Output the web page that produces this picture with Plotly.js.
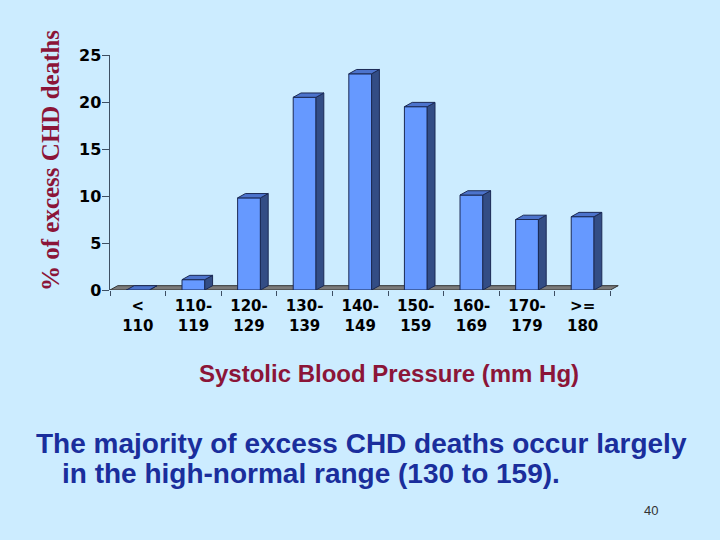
<!DOCTYPE html>
<html>
<head>
<meta charset="utf-8">
<script src="https://cdn.plot.ly/plotly-3.0.1.min.js"></script>
<style>
  html, body { margin: 0; padding: 0; background: #CCECFF; }
  #chart { width: 720px; height: 540px; }
</style>
</head>
<body>
<div id="chart"></div>
<script>
// ---- data ----
const categories = ["<<br>110", "110-<br>119", "120-<br>129", "130-<br>139", "140-<br>149",
                    "150-<br>159", "160-<br>169", "170-<br>179", ">=<br>180"];
const excessDeaths = [0, 1.1, 9.8, 20.5, 23.0, 19.5, 10.1, 7.5, 7.8];
const yTicks = [0, 5, 10, 15, 20, 25];

// ---- 3D look parameters (in axis units) ----
const barW = 0.41;     // front face width (category units)
const depthX = 0.14;   // receding offset along x
const depthY = 0.46;   // receding offset along y

const xPos = categories.map((_, i) => i);

// side faces and top faces built from the data
const sideX = [], sideY = [], topX = [], topY = [];
xPos.forEach((x, i) => {
  const v = excessDeaths[i];
  const r = x + barW / 2, l = x - barW / 2;
  sideX.push(r, r + depthX, r + depthX, r, r, null);
  sideY.push(0, depthY, v + depthY, v, 0, null);
  topX.push(l, r, r + depthX, l + depthX, l, null);
  topY.push(v, v, v + depthY, v + depthY, v, null);
});

const traces = [
  {
    type: "bar", x: xPos, y: excessDeaths, width: barW,
    marker: { color: "#6699FF", line: { color: "#1B2A55", width: 1 } },
    hoverinfo: "skip"
  },
  {
    type: "scatter", mode: "lines", x: sideX, y: sideY, fill: "toself",
    fillcolor: "#334D85", line: { color: "#1B2A55", width: 1 }, hoverinfo: "skip"
  },
  {
    type: "scatter", mode: "lines", x: topX, y: topY, fill: "toself",
    fillcolor: "#4C73CC", line: { color: "#1B2A55", width: 1 }, hoverinfo: "skip"
  }
];

const n = categories.length;
const boundaries = [];
for (let i = 0; i <= n; i++) boundaries.push(i - 0.5);

// pixel geometry helpers (plot area: x 110..621, y 55..290)
const L = 110, R = 99, T = 55, B = 250, W = 720, H = 540;
const pw = W - L - R, ph = H - T - B;
const px = (p) => (p - L) / pw;
const py = (p) => (H - B - p) / ph;

const layout = {
  width: W, height: H,
  margin: { l: L, r: R, t: T, b: B, pad: 0 },
  paper_bgcolor: "#CCECFF",
  plot_bgcolor: "#CCECFF",
  showlegend: false,
  bargap: 0,
  xaxis: {
    range: [-0.5, n - 0.5 + 0.19],
    tickmode: "array", tickvals: xPos, ticktext: categories,
    ticks: "", showgrid: false, zeroline: false, showline: false,
    tickfont: { family: "DejaVu Sans", size: 15, color: "#000000", weight: "bold" },
    ticklabelstandoff: 5,
    minor: { tickmode: "array", tickvals: boundaries, ticks: "outside", ticklen: 5,
             tickcolor: "#3D4F63", tickwidth: 1, showgrid: false },
    fixedrange: true
  },
  yaxis: {
    range: [0, 25],
    tickmode: "array", tickvals: yTicks,
    ticks: "outside", ticklen: 7, tickcolor: "#3D4F63", tickwidth: 1,
    showline: true, linecolor: "#3D4F63", linewidth: 1.5,
    showgrid: false, zeroline: false,
    tickfont: { family: "DejaVu Sans", size: 16, color: "#000000", weight: "bold" },
    ticklabelstandoff: -3,
    fixedrange: true
  },
  shapes: [
    { // floor
      type: "path", xref: "x", yref: "y", layer: "below",
      path: `M -0.5 0 L ${n - 0.5} 0 L ${n - 0.5 + depthX} ${depthY} L ${-0.5 + depthX} ${depthY} Z`,
      fillcolor: "#7A7A7A", line: { color: "#333333", width: 1 }
    }
  ],
  annotations: [
    {
      text: "% of excess CHD deaths", textangle: -90, showarrow: false,
      xref: "paper", yref: "paper", x: px(50), y: py(161), xanchor: "center", yanchor: "middle",
      font: { family: "Liberation Serif, Times New Roman, serif", size: 25, color: "#8B1538", weight: "bold" }
    },
    {
      text: "Systolic Blood Pressure (mm Hg)", showarrow: false,
      xref: "paper", yref: "paper", x: px(389), y: py(373), xanchor: "center", yanchor: "middle",
      font: { family: "Liberation Sans, Arial, sans-serif", size: 24, color: "#8B1538", weight: "bold" }
    },
    {
      text: "The majority of excess CHD deaths occur largely", showarrow: false,
      xref: "paper", yref: "paper", x: px(34), y: py(443), xanchor: "left", yanchor: "middle",
      font: { family: "Liberation Sans, Arial, sans-serif", size: 28, color: "#1A2E9C", weight: "bold" }
    },
    {
      text: "in the high-normal range (130 to 159).", showarrow: false,
      xref: "paper", yref: "paper", x: px(60), y: py(473), xanchor: "left", yanchor: "middle",
      font: { family: "Liberation Sans, Arial, sans-serif", size: 28, color: "#1A2E9C", weight: "bold" }
    },
    {
      text: "40", showarrow: false,
      xref: "paper", yref: "paper", x: px(651), y: py(510), xanchor: "center", yanchor: "middle",
      font: { family: "Liberation Sans, Arial, sans-serif", size: 13, color: "#333333" }
    }
  ]
};

Plotly.newPlot("chart", traces, layout, { displayModeBar: false, staticPlot: true });
</script>
</body>
</html>
